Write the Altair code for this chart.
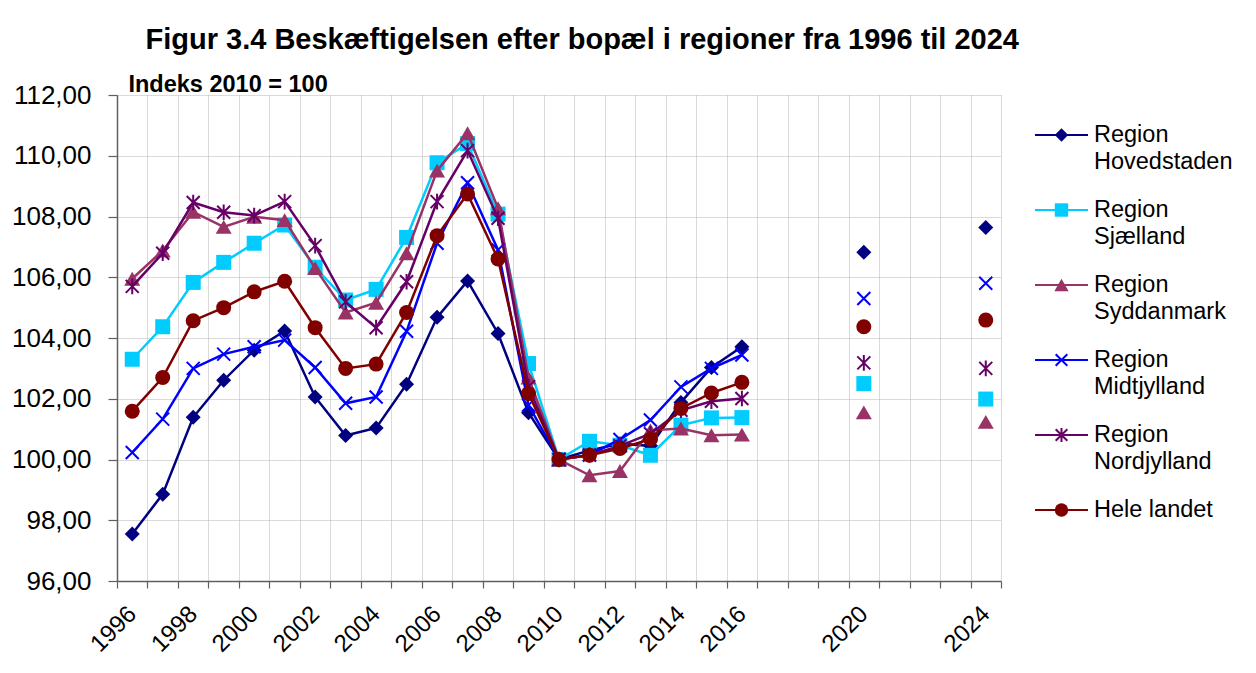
import altair as alt
import pandas as pd

FONT = "Liberation Sans"

# ---------------- data ----------------
years = list(range(1996, 2017)) + [2020, 2024]

hovedstaden = [97.55, 98.86, 101.39, 102.61, 103.60, 104.23, 102.06, 100.79, 101.04, 102.48,
               104.68, 105.88, 104.15, 101.54, 100.00, 100.30, 100.52, 100.45, 101.88, 103.03,
               103.71, 106.82, 107.64]
sjaelland = [103.30, 104.37, 105.83, 106.49, 107.12, 107.72, 106.33, 105.25, 105.60, 107.31,
             109.77, 110.40, 108.08, 103.16, 100.00, 100.60, 100.47, 100.14, 101.13, 101.37,
             101.38, 102.50, 101.99]
syddanmark = [105.95, 106.88, 108.15, 107.66, 107.99, 107.88, 106.30, 104.84, 105.16, 106.79,
              109.51, 110.74, 108.27, 102.70, 100.00, 99.48, 99.62, 100.96, 101.02, 100.80,
              100.82, 101.55, 101.24]
midtjylland = [100.23, 101.33, 103.00, 103.47, 103.71, 103.93, 103.03, 101.85, 102.06, 104.22,
               107.12, 109.11, 106.90, 101.79, 100.00, 100.15, 100.66, 101.30, 102.39, 103.00,
               103.44, 105.30, 105.80]
nordjylland = [105.70, 106.79, 108.46, 108.14, 108.03, 108.49, 107.04, 105.19, 104.34, 105.85,
               108.49, 110.17, 107.94, 102.40, 100.00, 100.15, 100.45, 100.85, 101.62, 101.92,
               102.01, 103.18, 103.00]
hele_landet = [101.59, 102.70, 104.57, 105.00, 105.52, 105.87, 104.34, 103.00, 103.14, 104.84,
               107.37, 108.74, 106.60, 102.17, 100.00, 100.14, 100.36, 100.67, 101.68, 102.19,
               102.54, 104.37, 104.59]

series_names = ["Region Hovedstaden", "Region Sjælland", "Region Syddanmark",
                "Region Midtjylland", "Region Nordjylland", "Hele landet"]
legend_labels = ["Region\nHovedstaden", "Region\nSjælland", "Region\nSyddanmark",
                 "Region\nMidtjylland", "Region\nNordjylland", "Hele landet"]
series_values = [hovedstaden, sjaelland, syddanmark, midtjylland, nordjylland, hele_landet]
colors = ["#000080", "#00CCFF", "#993366", "#0000FF", "#660066", "#800000"]

X_PATH = "M-1,-1L1,1M-1,1L1,-1"
STAR_PATH = "M-1,-1L1,1M-1,1L1,-1M0,-1.2L0,1.2"
shapes = ["diamond", "square", "triangle-up", X_PATH, STAR_PATH, "circle"]
filled = [True, True, True, False, False, True]
sizes = [225, 225, 256, 169, 169, 225]

label_years = [1996, 1998, 2000, 2002, 2004, 2006, 2008, 2010, 2012, 2014, 2016, 2020, 2024]
title_text = "Figur 3.4 Beskæftigelsen efter bopæl i regioner fra 1996 til 2024"
subtitle_text = "Indeks 2010 = 100"

# ---------------- main chart ----------------
W, H = 884, 486
band = W / 29.0
tick_vals = [1995.5 + k for k in range(30)]
label_list = ",".join(str(y) for y in label_years)

x_enc = alt.X(
    "year:Q",
    scale=alt.Scale(domain=[1995.5, 2024.5], nice=False, zero=False),
    axis=alt.Axis(
        values=tick_vals,
        labelExpr=f"indexof([{label_list}], datum.value + 0.5) >= 0 ? format(datum.value + 0.5, 'd') : ''",
        labelAngle=-45, labelAlign="right", labelBaseline="middle",
        labelOffset=band / 2, labelPadding=22, labelFlush=False, labelOverlap=False,
        labelFontSize=24, labelFont=FONT, labelColor="black",
        tickSize=7, tickColor="#606060", domainColor="#606060", domainWidth=1.5, tickWidth=1.2,
        grid=True, gridColor="#b4b4b4", gridDash=[1, 1], gridWidth=1,
        title=None,
    ),
)
y_enc = alt.Y(
    "value:Q",
    scale=alt.Scale(domain=[96, 112], nice=False, zero=False),
    axis=alt.Axis(
        values=list(range(96, 113, 2)),
        labelExpr="replace(format(datum.value, '.2f'), '.', ',')",
        labelFontSize=26, labelFont=FONT, labelColor="black", labelPadding=17,
        tickSize=9, tickColor="#606060", domainColor="#606060", domainWidth=1.5, tickWidth=1.2,
        grid=True, gridColor="#b4b4b4", gridDash=[1, 1], gridWidth=1,
        title=None,
    ),
)

layers = []
for name, vals, col, shp, fil, sz in zip(series_names, series_values, colors, shapes, filled, sizes):
    df = pd.DataFrame({"year": years, "value": vals, "series": name})
    line_df = df[df["year"] <= 2016]
    layers.append(
        alt.Chart(line_df).mark_line(color=col, strokeWidth=2.5).encode(x=x_enc, y=y_enc)
    )
    if fil:
        pt = alt.Chart(df).mark_point(shape=shp, filled=True, size=sz, color=col, opacity=1)
    else:
        pt = alt.Chart(df).mark_point(shape=shp, filled=False, size=sz, color=col, opacity=1,
                                      strokeWidth=2)
    layers.append(pt.encode(x=x_enc, y=y_enc))

main = alt.layer(*layers).properties(
    width=W, height=H,
    title=alt.Title(subtitle_text, fontSize=23.5, fontWeight="bold", font=FONT,
                    anchor="start", dx=117, offset=-14, color="black"),
)

# ---------------- legend panel ----------------
LW = 200
lx = alt.Scale(domain=[0, LW], nice=False, zero=False)
ly = alt.Scale(domain=[-40 / 75.0, (H - 40) / 75.0], nice=False, zero=False, reverse=True)

leg_layers = []
for i, (lab, col, shp, fil, sz) in enumerate(zip(legend_labels, colors, shapes, filled, sizes)):
    ldf = pd.DataFrame({"idx": [i], "label": [lab]})
    base = alt.Chart(ldf)
    yy = alt.Y("idx:Q", scale=ly, axis=None)
    leg_layers.append(
        base.mark_rule(color=col, strokeWidth=2).encode(
            x=alt.X(datum=0, scale=lx, axis=None), x2=alt.X2(datum=53), y=yy)
    )
    if fil:
        p = base.mark_point(shape=shp, filled=True, size=sz * 0.8, color=col, opacity=1)
    else:
        p = base.mark_point(shape=shp, filled=False, size=sz * 0.8, color=col, opacity=1,
                            strokeWidth=2)
    leg_layers.append(p.encode(x=alt.X(datum=26.5, scale=lx, axis=None), y=yy))
    leg_layers.append(
        base.mark_text(align="left", baseline="middle", fontSize=23.5, font=FONT,
                       lineHeight=26.7, lineBreak="\n", color="black").encode(
            x=alt.X(datum=59, scale=lx, axis=None), y=yy, text="label:N")
    )

legend = alt.layer(*leg_layers).properties(width=LW, height=H)

chart = alt.hconcat(main, legend, spacing=34, bounds="flush").properties(
    title=alt.Title(title_text, fontSize=29, fontWeight="bold", font=FONT,
                    anchor="start", dx=134, offset=18, color="black"),
    padding={"left": 3, "top": 17, "right": 5, "bottom": 0},
    background="white",
).configure_view(stroke=None)

chart.save("out.html", embed_options={"renderer": "svg", "actions": False})
